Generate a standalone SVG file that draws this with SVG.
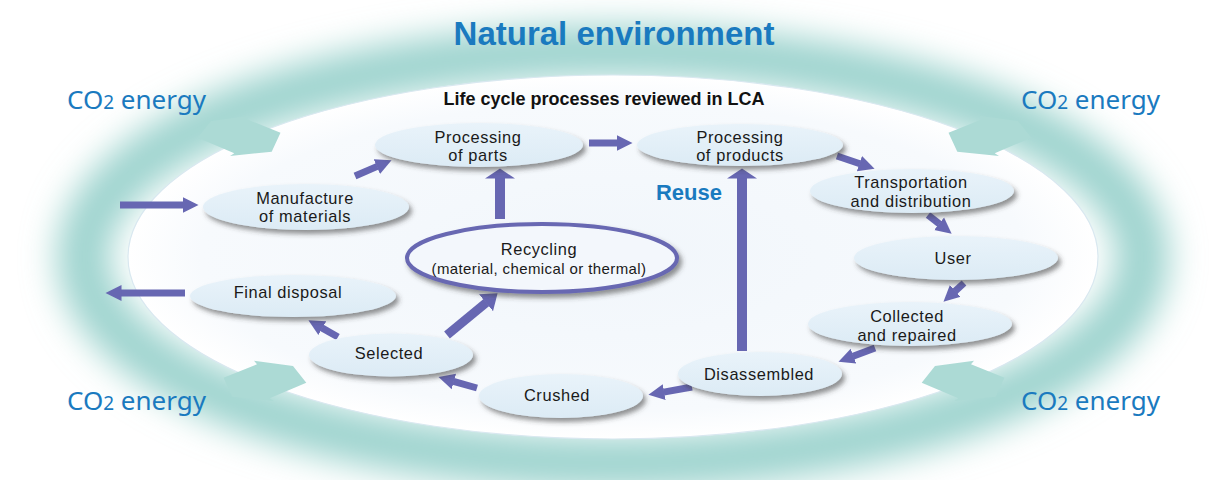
<svg xmlns="http://www.w3.org/2000/svg" width="1213" height="480" viewBox="0 0 1213 480">
<defs>
  <style>
    .node ellipse.n { fill: url(#nodeFill); filter: url(#shadow); }
    .lbl { font-family: "Liberation Sans", Arial, sans-serif; font-size: 16.4px; letter-spacing: 0.6px; fill: #1a1a1a; text-anchor: middle; }
    .sub { font-size: 15px; letter-spacing: 0.4px; }
    .co2 { font-family: "Noto Sans", "Liberation Sans", sans-serif; font-size: 26px; fill: #1a7abf; }
    .title { font-family: "Liberation Sans", Arial, sans-serif; font-weight: bold; text-anchor: middle; }
    .arr { stroke: #6767b2; stroke-width: 7; fill: none; marker-end: url(#head); }
    .big { stroke-width: 10; marker-end: url(#headBig); }
    .mid { stroke-width: 9; marker-end: url(#headMid); }
    .co2arrow { fill: #acdad5; }
  </style>
  <linearGradient id="nodeFill" x1="0" y1="0" x2="0" y2="1">
    <stop offset="0" stop-color="#e9f3fa"/>
    <stop offset="1" stop-color="#dcebf5"/>
  </linearGradient>
  <radialGradient id="innerFill" cx="0.5" cy="0.5" r="0.5">
    <stop offset="0" stop-color="#f1f6fb"/>
    <stop offset="0.85" stop-color="#f7fafd"/>
    <stop offset="1" stop-color="#ffffff"/>
  </radialGradient>
  <filter id="shadow" x="-20%" y="-30%" width="140%" height="170%">
    <feDropShadow dx="3" dy="4" stdDeviation="2.5" flood-color="#3a3a3a" flood-opacity="0.55"/>
  </filter>
  <filter id="bandBlur" x="-10%" y="-20%" width="120%" height="140%">
    <feGaussianBlur stdDeviation="17"/>
  </filter>
  <marker id="head" markerUnits="userSpaceOnUse" markerWidth="20" markerHeight="20" viewBox="0 -10 20 20" refX="0.5" refY="0" orient="auto">
    <path d="M0,-8 L16,0 L0,8 Z" fill="#6767b2"/>
  </marker>
  <marker id="headMid" markerUnits="userSpaceOnUse" markerWidth="24" markerHeight="26" viewBox="0 -13 24 26" refX="0.5" refY="0" orient="auto">
    <path d="M0,-11 L15,0 L0,11 Z" fill="#6767b2"/>
  </marker>
  <marker id="headBig" markerUnits="userSpaceOnUse" markerWidth="14" markerHeight="34" viewBox="0 -17 14 34" refX="0.5" refY="0" orient="auto">
    <path d="M0,-15 L10,0 L0,15 Z" fill="#6767b2"/>
  </marker>
  <path id="dbl" d="M197.7,137.7 L211,121 L250,115.7 L247,119.3 L280.5,132.7 L271.7,151.7 L230,156 L234.3,153.3 Z"/>
</defs>

<rect width="1213" height="480" fill="#ffffff"/>

<g id="environment">
  <ellipse cx="613" cy="257" rx="530" ry="206" fill="none" stroke="#9cd3ce" stroke-width="52" filter="url(#bandBlur)"/>
  <ellipse cx="613" cy="257" rx="485" ry="182" fill="url(#innerFill)" stroke="#d9e8f0" stroke-width="1.2"/>
</g>

<g id="co2-arrows">
  <use href="#dbl" class="co2arrow"/>
  <use href="#dbl" class="co2arrow" transform="translate(724,245)"/>
  <use href="#dbl" class="co2arrow" transform="translate(1229,0) scale(-1,1)"/>
  <use href="#dbl" class="co2arrow" transform="translate(504,245) scale(-1,1)"/>
</g>

<g id="texts">
  <text x="614" y="45" class="title" font-size="33" fill="#1a7abf">Natural environment</text>
  <text x="604" y="105" class="title" font-size="18" fill="#111111">Life cycle processes reviewed in LCA</text>
  <text x="689" y="200" class="title" font-size="22" fill="#1a7abf">Reuse</text>
  <text x="67" y="109" class="co2">CO<tspan font-size="19">2</tspan> energy</text>
  <text x="1021" y="109" class="co2">CO<tspan font-size="19">2</tspan> energy</text>
  <text x="67" y="410" class="co2">CO<tspan font-size="19">2</tspan> energy</text>
  <text x="1021" y="410" class="co2">CO<tspan font-size="19">2</tspan> energy</text>
</g>

<g id="connectors">
  <line class="arr" x1="120" y1="205" x2="183" y2="205"/>
  <line class="arr" x1="355" y1="176" x2="377.3" y2="166.4"/>
  <line class="arr" x1="589" y1="143" x2="617" y2="143"/>
  <line class="arr big" x1="500" y1="219" x2="500" y2="178"/>
  <line class="arr big" x1="742" y1="351" x2="742" y2="178"/>
  <line class="arr" x1="837" y1="156" x2="859.9" y2="163.8"/>
  <line class="arr" x1="928" y1="215" x2="939.5" y2="224.1"/>
  <line class="arr" x1="964" y1="283" x2="954.9" y2="291.3"/>
  <line class="arr" x1="875" y1="348" x2="853" y2="356.3"/>
  <line class="arr" x1="692" y1="387" x2="663.7" y2="392.1"/>
  <line class="arr" x1="477" y1="388" x2="453.4" y2="381.3"/>
  <line class="arr mid" x1="447" y1="335" x2="486.4" y2="302.5"/>
  <line class="arr" x1="338" y1="337" x2="321.9" y2="327.9"/>
  <line class="arr" x1="185" y1="293" x2="121" y2="293"/>
</g>

<g id="manufacture" class="node">
  <ellipse class="n" cx="306" cy="207" rx="103" ry="23"/>
  <text class="lbl" x="305" y="203.5">Manufacture<tspan x="305" dy="18.5">of materials</tspan></text>
</g>
<g id="parts" class="node">
  <ellipse class="n" cx="479" cy="145" rx="104" ry="22"/>
  <text class="lbl" x="478" y="142.5">Processing<tspan x="478" dy="18.5">of parts</tspan></text>
</g>
<g id="products" class="node">
  <ellipse class="n" cx="740" cy="145" rx="103" ry="21"/>
  <text class="lbl" x="740" y="142.5">Processing<tspan x="740" dy="18.5">of products</tspan></text>
</g>
<g id="transport" class="node">
  <ellipse class="n" cx="912" cy="191" rx="102" ry="22"/>
  <text class="lbl" x="911" y="188">Transportation<tspan x="911" dy="18.5">and distribution</tspan></text>
</g>
<g id="user" class="node">
  <ellipse class="n" cx="956" cy="258" rx="102" ry="22"/>
  <text class="lbl" x="953" y="264">User</text>
</g>
<g id="collected" class="node">
  <ellipse class="n" cx="910" cy="324" rx="102" ry="22"/>
  <text class="lbl" x="907" y="322">Collected<tspan x="907" dy="18.5">and repaired</tspan></text>
</g>
<g id="disassembled" class="node">
  <ellipse class="n" cx="760" cy="374" rx="82" ry="22"/>
  <text class="lbl" x="759" y="380">Disassembled</text>
</g>
<g id="crushed" class="node">
  <ellipse class="n" cx="561" cy="396" rx="82" ry="22"/>
  <text class="lbl" x="557" y="401">Crushed</text>
</g>
<g id="selected" class="node">
  <ellipse class="n" cx="391" cy="355" rx="82" ry="21.5"/>
  <text class="lbl" x="389" y="359">Selected</text>
</g>
<g id="disposal" class="node">
  <ellipse class="n" cx="293" cy="296" rx="103" ry="21"/>
  <text class="lbl" x="288" y="298">Final disposal</text>
</g>
<g id="recycling" class="node">
  <ellipse cx="542" cy="258" rx="135" ry="34" fill="#f3f7fc" stroke="#6767b2" stroke-width="4" filter="url(#shadow)"/>
  <text class="lbl" x="539" y="255">Recycling<tspan class="sub" x="539" dy="18.5">(material, chemical or thermal)</tspan></text>
</g>
</svg>
